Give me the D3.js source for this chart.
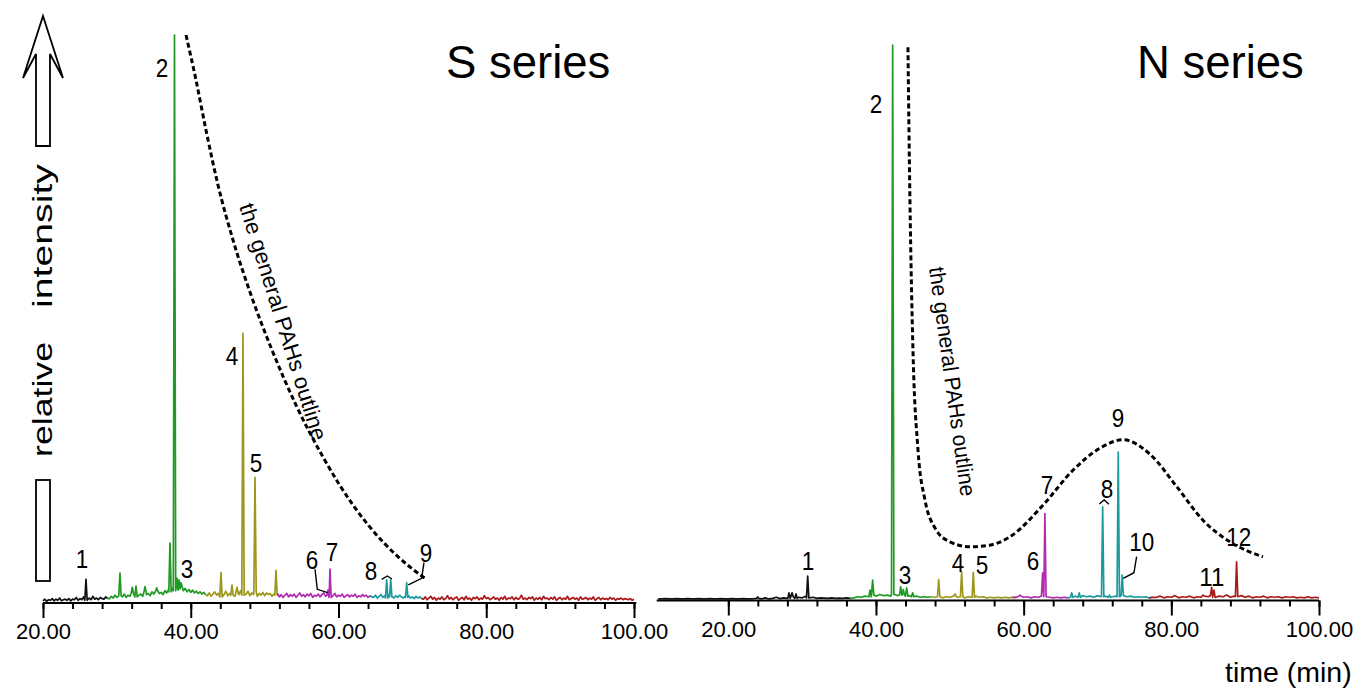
<!DOCTYPE html>
<html><head><meta charset="utf-8">
<script src="https://cdn.jsdelivr.net/npm/d3@7"></script>
<style>
html,body{margin:0;padding:0;background:#fff;}
svg{display:block;font-family:"Liberation Sans",Arial,Helvetica,sans-serif;}
</style></head><body>
<svg id="chart" width="1355" height="690"></svg>
<script>
// ---- retention-time axis ----
const minorTicks = [20,24,28,32,36,40,44,48,52,56,60,64,68,72,76,80,84,88,92,96,100];
const majorTicks = [20,40,60,80,100];

// ---- S series (left chromatogram) ----
const sSegments = [
  {key:"k", from:20,   to:28.8},
  {key:"g", from:28.8, to:42.1},
  {key:"o", from:42.1, to:51.8},
  {key:"m", from:51.8, to:64.5},
  {key:"t", from:64.5, to:71.3},
  {key:"r", from:71.3, to:100.3}
];
const sNoiseStart = 20, sNoiseStep = 0.25;   // baseline sampled every 0.25 min
const sNoise = [
  // black
  0.2,0.5,0.1,0.4,0.3,0.6,0.2,0.5,0.3,0.7,0.2,0.4,0.5,0.3,0.6,0.2,0.5,0.4,0.8,0.3,0.6,0.4,0.9,0.3,0.5,0.7,0.4,1.0,0.5,0.7,0.4,0.8,0.6,0.5,0.9,0.6,
  // green
  0.6,1.0,0.7,1.2,0.8,0.6,1.1,0.9,1.4,0.8,1.2,1.0,1.5,1.1,0.9,1.6,1.2,1.4,1.0,1.7,1.3,1.5,1.1,1.8,1.4,1.2,1.9,1.5,1.7,1.3,
  2.0,1.6,2.2,1.8,2.4,2.0,2.6,2.1,2.3,2.7,2.0,2.4,1.8,2.2,1.7,2.1,1.6,1.9,1.5,1.8,1.4,1.7,1.3,
  // olive
  1.1,1.6,1.0,1.4,1.8,1.2,1.5,0.9,1.7,1.3,1.9,1.1,1.5,1.2,1.8,1.0,1.6,1.3,2.0,1.2,1.7,1.4,1.9,1.1,1.6,1.3,1.8,1.0,1.5,1.2,
  1.7,1.1,1.6,1.3,1.5,1.0,1.4,1.2,1.5,
  // magenta
  0.9,1.3,0.8,1.2,1.5,0.9,1.3,1.0,1.4,0.8,1.2,1.6,1.0,1.3,0.9,1.4,1.1,1.5,0.8,1.2,1.0,1.4,0.9,1.3,1.6,1.0,1.2,0.8,1.3,1.1,
  1.5,0.9,1.2,1.0,1.4,0.8,1.1,1.3,0.9,1.2,1.0,1.4,0.8,1.1,0.9,1.3,1.0,1.2,0.8,1.1,0.9,
  // teal
  0.8,1.2,0.7,1.0,1.3,0.8,1.1,0.7,1.2,0.9,1.0,0.7,1.1,0.8,1.2,0.9,0.7,1.0,0.8,1.1,0.7,0.9,0.6,1.0,0.7,0.9,0.6,
  // red
  0.5,0.9,0.4,0.7,1.0,0.5,0.8,0.3,0.7,0.5,0.9,0.4,0.6,1.1,0.5,0.8,0.4,0.7,0.9,0.3,
  0.6,0.8,0.4,1.0,0.5,0.7,0.3,0.8,0.6,0.9,0.4,0.7,0.5,1.1,0.6,0.8,0.4,0.6,0.9,0.5,
  0.7,0.3,0.8,0.5,1.0,0.4,0.7,0.6,0.9,0.4,0.8,0.5,0.6,1.2,0.5,0.7,0.4,0.8,0.6,0.9,
  0.3,0.7,0.5,0.8,0.4,1.0,0.6,0.7,0.4,0.8,0.5,0.9,0.3,0.6,0.8,0.4,0.7,0.5,1.0,0.4,
  0.6,0.8,0.5,0.7,0.3,0.9,0.5,0.6,0.8,0.4,0.7,0.5,0.9,0.3,0.6,0.8,0.4,0.7,0.5,0.6,
  0.4,0.8,0.5,0.7,0.3,0.6,0.5,0.7,0.4,0.6,0.5,0.4,0.6,0.3,0.5
];
// [retention time (min), relative intensity]
const sPeaks = [
  [25.82,4.0],
  [30.42,5.1],[32.09,2.6],[32.59,2.8],[33.81,2.7],[35.39,2.5],
  [37.19,10.4],[37.80,100],[38.14,4.2],[38.41,3.9],[38.68,3.4],
  [44.09,5.2],[45.58,3.0],[46.26,2.6],[47.07,47.4],[48.70,22.0],[51.54,5.6],
  [58.58,2.1],[58.85,5.8],
  [66.52,3.9],[67.07,3.9],[69.23,3.4]
];
const sOutline = [
  [39.36,100],[40.71,92.06],[42.06,83.25],[43.69,73.54],[45.72,63.84],[48.16,54.14],
  [51.0,44.44],[54.25,34.74],[57.90,25.57],[61.96,17.11],[66.16,10.41],[69.68,6.17],[71.84,4.06]
];
const sLabels = [
  ["1",25.28,7.76],["2",36.11,94.36],["3",39.49,6.0],["4",45.58,43.56],["5",48.83,24.69],
  ["6",56.41,7.58],["7",59.12,9.0],["8",64.40,5.56],["9",71.84,8.82]
];
const sLeaders = [
  [[56.82,5.77],[57.13,2.24],[58.54,1.64]],
  [[65.85,4.0],[66.61,4.59],[67.24,4.06]],
  [[71.57,6.93],[71.26,4.18],[69.45,3.0]]
];
const sOutlineText = {from:[46.53,69.84], to:[56.55,28.22]};

// ---- N series (right chromatogram) ----
const nSegments = [
  {key:"k", from:10.3, to:36.7},
  {key:"g", from:36.7, to:47.8},
  {key:"o", from:47.8, to:59.0},
  {key:"m", from:59.0, to:66.3},
  {key:"t", from:66.3, to:77.5},
  {key:"r", from:77.5, to:100}
];
const nNoiseStart = 10.5, nNoiseStep = 0.5;
const nNoise = [
  0.1,0.1,0.15,0.1,0.1,0.15,0.1,0.1,0.15,0.1,0.1,0.15,0.1,0.1,0.15,0.1,0.1,0.15,0.1,0.1,0.15,0.1,0.1,0.15,0.1,0.1,0.15,
  0.2,0.1,0.3,0.1,0.2,0.4,0.15,0.3,0.2,0.5,0.2,0.4,0.3,0.6,0.3,0.4,0.2,0.3,0.25,0.2,0.3,0.2,0.25,0.2,0.3,0.2,
  0.3,0.5,0.4,0.6,0.5,0.8,0.6,0.9,0.7,0.8,0.6,0.9,0.7,0.8,0.6,0.7,0.5,0.6,0.4,0.5,0.4,0.5,
  0.4,0.5,0.3,0.5,0.4,0.6,0.4,0.5,0.3,0.5,0.4,0.6,0.4,0.5,0.3,0.4,0.3,0.4,0.3,0.4,0.3,0.4,
  0.4,0.6,0.4,0.5,0.3,0.5,0.4,0.6,0.5,0.4,0.3,0.4,0.3,0.4,0.3,
  0.4,0.6,0.4,0.7,0.5,0.6,0.4,0.7,0.5,0.6,0.4,0.5,0.6,0.5,0.7,0.5,0.6,0.4,0.5,0.4,0.5,0.3,0.4,
  0.4,0.6,0.3,0.5,0.4,0.7,0.3,0.5,0.4,0.6,0.3,0.5,0.4,0.6,0.5,0.7,0.4,0.6,0.5,0.8,0.4,0.6,0.5,
  0.7,0.4,0.6,0.3,0.5,0.4,0.6,0.3,0.5,0.4,0.5,0.3,0.5,0.4,0.5,0.3,0.4,0.3,0.5,0.3,0.4,0.3
];
const nPeaks = [
  [23.98,0.45],[28.22,1.2],[28.63,1.2],[29.17,1.0],[30.75,4.2],
  [39.19,1.7],[39.55,3.5],[42.26,100],[43.35,2.3],[43.7,1.8],[44.16,2.1],[44.97,1.2],
  [48.49,3.6],[50.7,1.0],[51.6,5.0],[53.18,4.9],
  [59.5,0.8],[62.57,4.8],[62.88,15.5],
  [66.5,1.2],[67.53,1.2],[70.7,16.7],[71.6,0.8],[72.81,26.6],[73.35,4.4],
  [84.32,0.8],[85.46,2.2],[85.77,1.7],[88.84,6.8]
];
const nOutline = [
  [44.33,99.6],[44.60,72.0],[45.01,45.0],[45.69,27.0],[46.63,18.0],[47.99,12.9],[50.02,10.4],
  [52.73,9.5],[55.43,9.8],[58.14,11.3],[62.61,17.0],[66.67,23.3],[70.34,27.3],[73.45,28.8],
  [77.11,26.2],[80.76,20.3],[84.28,14.3],[87.94,10.4],[92.41,7.7]
];
const nLabels = [
  ["1",30.79,7.12],["2",40.0,89.5],["3",43.93,4.6],["4",51.1,6.76],["5",54.35,6.4],
  ["6",61.26,7.12],["7",63.16,20.83],["8",71.29,20.1],["9",72.77,32.9],["10",76.0,10.4],
  ["11",85.48,4.24],["12",89.14,11.45]
];
const nLeaders = [
  [[70.24,17.22],[70.91,17.94],[71.55,17.17]],
  [[75.30,7.72],[74.94,4.83],[73.49,3.82]]
];
const nOutlineText = {from:[47.17,59.78], to:[51.51,18.49]};

const colors = {k:"#111111", g:"#1f9a22", o:"#9d971c", m:"#b22cb2", t:"#1b9a9c", r:"#ab1a1a"};

const svg = d3.select("#chart");

function buildTrace(noise, start, step, peaks){
  const hw = 0.16;
  let pts = noise.map((v,i)=>[start + i*step, v]);
  // keep the baseline samples clear of the peak feet
  pts = pts.filter(p => !peaks.some(([t]) => Math.abs(p[0]-t) < hw + 0.02));
  peaks.forEach(([t,h])=>{
    const i = Math.max(0, Math.min(noise.length-1, Math.round((t-start)/step)));
    const b = noise[i];
    pts.push([t-hw,b],[t,h],[t+hw,b]);
  });
  pts.sort((a,b)=>a[0]-b[0]);
  return pts;
}

function drawPanel(cfg){
  const g = svg.append("g");
  const x = cfg.x, y = cfg.y;
  const pts = buildTrace(cfg.noise, cfg.noiseStart, cfg.noiseStep, cfg.peaks);
  const line = d3.line().x(d=>x(d[0])).y(d=>y(d[1]));

  // chromatogram, coloured by retention window
  cfg.segments.forEach(s=>{
    let idx0 = pts.findIndex(p=>p[0]>=s.from);
    let idx1 = pts.length-1;
    for(let i=pts.length-1;i>=0;i--){ if(pts[i][0]<=s.to){ idx1=i; break; } }
    const seg = pts.slice(Math.max(0,idx0-1), idx1+1);
    g.append("path").attr("d", line(seg))
      .attr("fill","none").attr("stroke", colors[s.key])
      .attr("stroke-width",1.7).attr("stroke-linejoin","round");
  });

  // axis line
  g.append("line")
    .attr("x1", x(cfg.axisFrom)).attr("x2", x(cfg.axisTo))
    .attr("y1", cfg.axisY).attr("y2", cfg.axisY)
    .attr("stroke","#000").attr("stroke-width",2);

  const minorAxis = d3.axisBottom(x).tickValues(minorTicks).tickSize(6).tickFormat("");
  const majorAxis = d3.axisBottom(x).tickValues(majorTicks).tickSize(15)
    .tickPadding(cfg.pad).tickFormat(d3.format(".2f"));
  [minorAxis, majorAxis].forEach(ax=>{
    const a = g.append("g").attr("transform",`translate(0,${cfg.axisY})`).call(ax);
    a.select(".domain").remove();
    a.selectAll("line").attr("stroke","#000").attr("stroke-width",2);
    a.selectAll("text").attr("fill","#000").style("font-size","22px")
      .style("font-family",'"Liberation Sans",Arial,sans-serif');
  });

  // general PAHs outline
  g.append("path")
    .attr("d", d3.line().x(d=>x(d[0])).y(d=>y(d[1])).curve(d3.curveMonotoneX)(cfg.outline))
    .attr("fill","none").attr("stroke","#000").attr("stroke-width",3)
    .attr("stroke-dasharray","5,3");

  const a0 = [x(cfg.outlineText.from[0]), y(cfg.outlineText.from[1])];
  const a1 = [x(cfg.outlineText.to[0]), y(cfg.outlineText.to[1])];
  const ang = Math.atan2(a1[1]-a0[1], a1[0]-a0[0]) * 180/Math.PI;
  const len = Math.hypot(a1[0]-a0[0], a1[1]-a0[1]);
  g.append("text").text("the general PAHs outline")
    .attr("transform",`translate(${a0[0]},${a0[1]}) rotate(${ang})`)
    .attr("textLength", len).attr("lengthAdjust","spacingAndGlyphs")
    .style("font-size","22px").attr("fill","#000");

  // leader lines
  cfg.leaders.forEach(l=>{
    g.append("path").attr("d", d3.line().x(d=>x(d[0])).y(d=>y(d[1]))(l))
      .attr("fill","none").attr("stroke","#000").attr("stroke-width",1.4);
  });

  // peak numbers
  cfg.labels.forEach(([t,tx,ty])=>{
    g.append("text").text(t)
      .attr("x", x(tx)).attr("y", y(ty)).attr("dy","0.36em")
      .attr("text-anchor","middle")
      .attr("textLength", t.length*12.5).attr("lengthAdjust","spacingAndGlyphs")
      .style("font-size","26.5px").attr("fill","#000");
  });

  g.append("text").text(cfg.title)
    .attr("x", cfg.titleX).attr("y", 78)
    .style("font-size","45.5px").attr("fill","#000");
}

drawPanel({
  x: d3.scaleLinear().domain([20,100]).range([43,634]),
  y: d3.scaleLinear().domain([0,100]).range([602,35]),
  axisFrom:20, axisTo:100.3, axisY:603, pad:5,
  segments:sSegments, noise:sNoise, noiseStart:sNoiseStart, noiseStep:sNoiseStep, peaks:sPeaks,
  outline:sOutline, outlineText:sOutlineText, leaders:sLeaders, labels:sLabels,
  title:"S series", titleX:446
});
drawPanel({
  x: d3.scaleLinear().domain([20,100]).range([728.3,1319]),
  y: d3.scaleLinear().domain([0,100]).range([599.5,45]),
  axisFrom:10.3, axisTo:100, axisY:600.5, pad:5.5,
  segments:nSegments, noise:nNoise, noiseStart:nNoiseStart, noiseStep:nNoiseStep, peaks:nPeaks,
  outline:nOutline, outlineText:nOutlineText, leaders:nLeaders, labels:nLabels,
  title:"N series", titleX:1137
});

// x-axis title
svg.append("text").text("time (min)")
  .attr("x",1225).attr("y",682).style("font-size","28.5px").attr("fill","#000");

// relative-intensity indicator: arrow, words and bar
svg.append("polygon")
  .attr("points","43,16 63,78 50,54 50,146 36,146 36,54 23,78")
  .attr("fill","#fff").attr("stroke","#000").attr("stroke-width",1.8)
  .attr("stroke-linejoin","miter");
svg.append("rect").attr("x",36).attr("y",480).attr("width",14).attr("height",101)
  .attr("fill","#fff").attr("stroke","#000").attr("stroke-width",1.8);
svg.append("text").text("relative")
  .attr("transform","translate(52,457) rotate(-90)")
  .attr("textLength",115).attr("lengthAdjust","spacingAndGlyphs")
  .style("font-size","27px").attr("fill","#000");
svg.append("text").text("intensity")
  .attr("transform","translate(52,308) rotate(-90)")
  .attr("textLength",144).attr("lengthAdjust","spacingAndGlyphs")
  .style("font-size","27px").attr("fill","#000");
</script></body></html>
